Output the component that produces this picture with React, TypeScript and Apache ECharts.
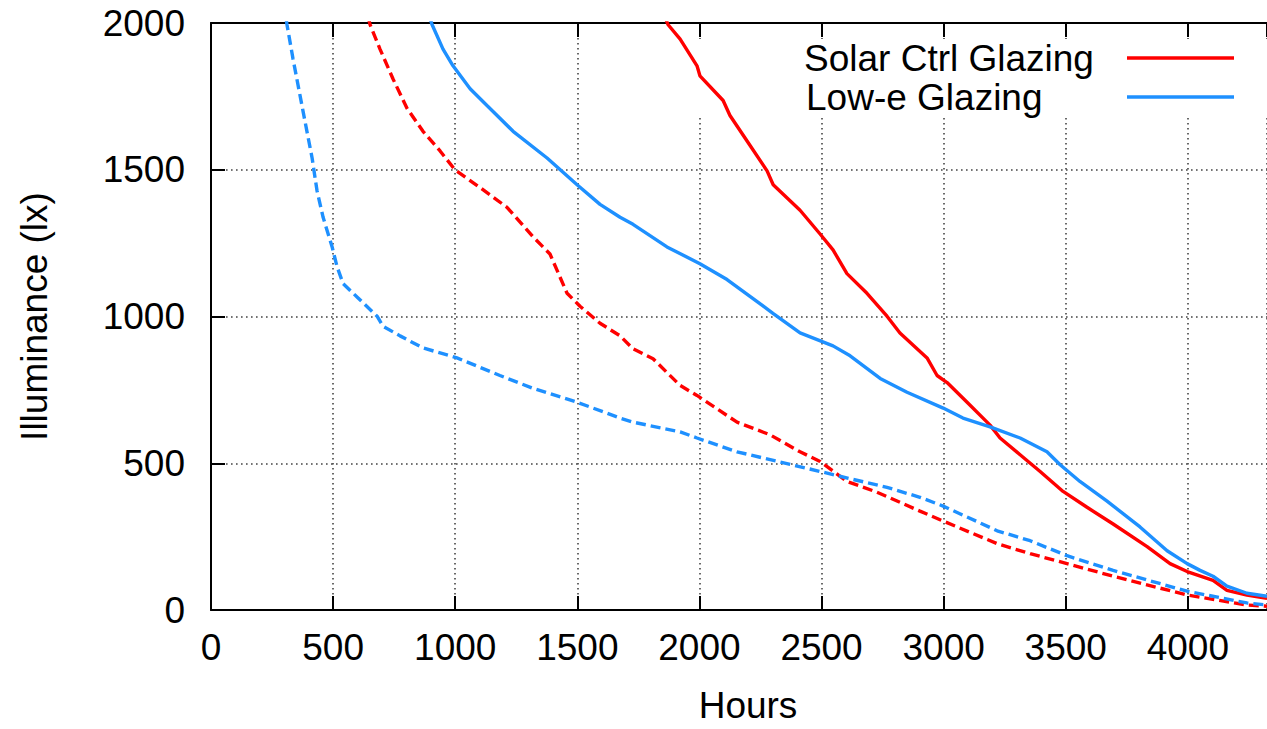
import { useEffect, useRef } from "react";
import * as echarts from "echarts";

// Cumulative hours above a given workplane illuminance, two glazing types,
// each shown for two sensor positions (solid = near, dashed = far).
const HOURS_MIN = 0;
const HOURS_MAX = 4324;
const HOURS_STEP = 500;
const LUX_MIN = 0;
const LUX_MAX = 2000;
const LUX_STEP = 500;

const X_NAME = "Hours";
const Y_NAME = "Illuminance (lx)";
const LEGEND_NAMES = ["Solar Ctrl Glazing", "Low-e Glazing"];
const COLORS = ["#ff0000", "#1e90ff"];

const solarCtrlNear: [number, number][] = [
  [1840, 2060], [1871, 1995], [1921, 1945], [1990, 1854], [2002, 1820], [2097, 1736],
  [2125, 1685], [2195, 1598], [2277, 1496], [2302, 1449], [2412, 1362], [2494, 1281],
  [2547, 1227], [2604, 1146], [2686, 1079], [2768, 1001], [2821, 944], [2932, 859],
  [2973, 799], [3014, 775], [3096, 708], [3190, 630], [3231, 586], [3313, 529],
  [3395, 472], [3489, 404], [3587, 350], [3694, 293], [3833, 216], [3927, 158],
  [3997, 131], [4103, 101], [4160, 67], [4242, 51], [4324, 40],
];

const lowENear: [number, number][] = [
  [880, 2060], [905, 1995], [950, 1911], [991, 1854], [1061, 1776], [1130, 1719],
  [1237, 1631], [1376, 1540], [1499, 1449], [1593, 1382], [1675, 1338], [1728, 1314],
  [1867, 1237], [2002, 1180], [2113, 1126], [2301, 1011], [2412, 944], [2547, 900],
  [2617, 866], [2740, 789], [2850, 742], [2998, 688], [3079, 654], [3190, 624],
  [3313, 586], [3423, 539], [3477, 495], [3558, 438], [3669, 371], [3804, 283],
  [3915, 202], [3997, 158], [4050, 135], [4103, 115], [4160, 81], [4242, 57],
  [4324, 47],
];

const solarCtrlFar: [number, number][] = [
  [630, 2070], [651, 1995], [692, 1911], [745, 1810], [803, 1709], [868, 1631],
  [938, 1564], [999, 1500], [1102, 1439], [1212, 1372], [1319, 1271], [1388, 1213],
  [1458, 1079], [1511, 1035], [1593, 977], [1675, 934], [1728, 890], [1810, 856],
  [1921, 765], [1990, 731], [2154, 640], [2289, 597], [2412, 539], [2494, 506],
  [2604, 438], [2725, 402], [2903, 337], [2998, 303], [3219, 226], [3354, 192],
  [3505, 158], [3694, 115], [3997, 51], [4242, 17], [4324, 13],
];

const lowEFar: [number, number][] = [
  [300, 2060], [311, 1995], [336, 1877], [377, 1699], [414, 1540], [434, 1429],
  [459, 1338], [496, 1237], [516, 1170], [541, 1112], [600, 1065], [680, 1001],
  [704, 967], [774, 934], [868, 893], [1007, 859], [1183, 799], [1319, 755],
  [1499, 708], [1675, 654], [1728, 640], [1921, 607], [1990, 586], [2154, 539],
  [2494, 472], [2629, 445], [2768, 418], [2903, 384], [2998, 354], [3219, 270],
  [3354, 236], [3505, 185], [3694, 135], [3997, 64], [4242, 24], [4324, 17],
];

const FONT = "'Liberation Sans', Arial, sans-serif";
const W = 1267;
const H = 729;

export default function App() {
  const ref = useRef<HTMLDivElement>(null);

  useEffect(() => {
    if (!ref.current) return;
    const chart = echarts.init(ref.current, undefined, { renderer: "svg", width: W, height: H });

    const axisLine = { show: true, lineStyle: { color: "#000", width: 2 } };
    const axisTick = { show: true, inside: true, length: 14, lineStyle: { color: "#000", width: 2 } };
    const splitLine = {
      show: true,
      lineStyle: { color: "#444", width: 1.6, type: [1.6, 3.4] as number[] },
    };
    const plain = (v: number) => String(v);

    const mkLine = (name: string, data: [number, number][], color: string, dashed: boolean) => ({
      name,
      type: "line",
      data,
      showSymbol: false,
      symbol: "none",
      clip: true,
      z: 3,
      lineStyle: { color, width: 3.4, type: dashed ? ([10, 5] as number[]) : "solid" },
    });

    chart.setOption({
      animation: false,
      backgroundColor: "#fff",
      textStyle: { fontFamily: FONT },
      grid: { left: 211, top: 23, width: 1056, height: 594, containLabel: false },
      xAxis: [
        {
          type: "value",
          min: HOURS_MIN,
          max: HOURS_MAX,
          interval: HOURS_STEP,
          position: "bottom",
          name: X_NAME,
          nameLocation: "middle",
          nameGap: 77,
          nameTextStyle: { fontSize: 37, color: "#000", fontFamily: FONT, padding: [0, 0, 0, 18] },
          axisLine,
          axisTick,
          axisLabel: { fontSize: 37, color: "#000", margin: 19, fontFamily: FONT, formatter: plain },
          splitLine,
        },
        {
          type: "value",
          min: HOURS_MIN,
          max: HOURS_MAX,
          interval: HOURS_STEP,
          position: "top",
          axisLine,
          axisTick,
          axisLabel: { show: false },
          splitLine: { show: false },
        },
      ],
      yAxis: [
        {
          type: "value",
          min: LUX_MIN,
          max: LUX_MAX,
          interval: LUX_STEP,
          position: "left",
          name: Y_NAME,
          nameLocation: "middle",
          nameRotate: 90,
          nameGap: 158,
          nameTextStyle: { fontSize: 37, color: "#000", fontFamily: FONT },
          axisLine,
          axisTick,
          axisLabel: { fontSize: 37, color: "#000", margin: 26, fontFamily: FONT, formatter: plain },
          splitLine,
        },
      ],
      series: [
        mkLine(LEGEND_NAMES[0], solarCtrlNear, COLORS[0], false),
        mkLine(LEGEND_NAMES[1], lowENear, COLORS[1], false),
        mkLine(LEGEND_NAMES[0] + " (far)", solarCtrlFar, COLORS[0], true),
        mkLine(LEGEND_NAMES[1] + " (far)", lowEFar, COLORS[1], true),
      ],
      graphic: {
        elements: [
          // key box background, hides the grid behind the key
          {
            type: "rect",
            z: 1,
            shape: { x: 640, y: 39, width: W - 640, height: 77 },
            style: { fill: "#fff" },
            silent: true,
          },
          {
            type: "text",
            z: 10,
            x: 804,
            y: 58,
            style: {
              text: LEGEND_NAMES[0],
              fontSize: 37,
              fontFamily: FONT,
              fill: "#000",
              textAlign: "left",
              textVerticalAlign: "middle",
            },
          },
          {
            type: "text",
            z: 10,
            x: 806,
            y: 97,
            style: {
              text: LEGEND_NAMES[1],
              fontSize: 37,
              fontFamily: FONT,
              fill: "#000",
              textAlign: "left",
              textVerticalAlign: "middle",
            },
          },
          {
            type: "line",
            z: 10,
            shape: { x1: 1127, y1: 58, x2: 1234, y2: 58 },
            style: { stroke: COLORS[0], lineWidth: 3.4 },
          },
          {
            type: "line",
            z: 10,
            shape: { x1: 1127, y1: 97, x2: 1234, y2: 97 },
            style: { stroke: COLORS[1], lineWidth: 3.4 },
          },
        ],
      },
    });

    return () => chart.dispose();
  }, []);

  return (
    <div
      ref={ref}
      style={{ position: "absolute", left: 0, top: 0, width: W, height: H, overflow: "hidden" }}
    />
  );
}
